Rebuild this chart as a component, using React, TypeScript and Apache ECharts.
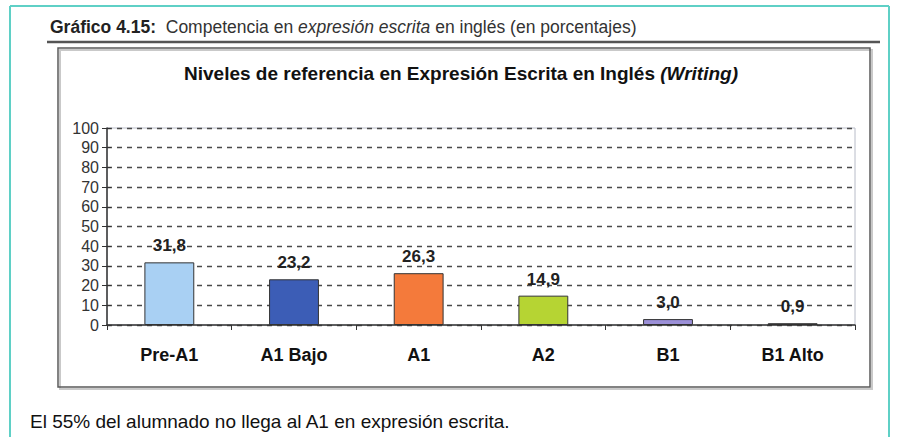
import React, { useEffect, useRef } from "react";
import * as echarts from "echarts";

const categories = ["Pre-A1", "A1 Bajo", "A1", "A2", "B1", "B1 Alto"];
const values = [31.8, 23.2, 26.3, 14.9, 3.0, 0.9];
const barColors = ["#a9d0f3", "#3c5db6", "#f47a3b", "#b6d433", "#9c90d8", "#2a2a2a"];
const yTicks = [0, 10, 20, 30, 40, 50, 60, 70, 80, 90, 100];

const FONT = "'Liberation Sans', Arial, sans-serif";

export default function App() {
  const ref = useRef<HTMLDivElement>(null);
  useEffect(() => {
    if (!ref.current) return;
    const chart = echarts.init(ref.current, null, { renderer: "svg" });
    chart.setOption({
      animation: false,
      backgroundColor: "#ffffff",
      textStyle: { fontFamily: FONT },
      graphic: [
        // teal outer frame
        { type: "line", shape: { x1: 10, y1: 6, x2: 10, y2: 437 }, style: { stroke: "#5fd0c6", lineWidth: 2 } },
        { type: "line", shape: { x1: 10, y1: 6, x2: 889, y2: 6 }, style: { stroke: "#5fd0c6", lineWidth: 2 } },
        { type: "line", shape: { x1: 889, y1: 6, x2: 889, y2: 437 }, style: { stroke: "#5fd0c6", lineWidth: 2 } },
        // header
        {
          type: "text",
          left: 50,
          top: 18,
          style: {
            text: "{b|Gráfico 4.15:}  Competencia en {i|expresión escrita} en inglés (en porcentajes)",
            font: `17.5px ${FONT}`,
            fill: "#333",
            rich: {
              b: { fontWeight: "bold", fontSize: 17.5, fontFamily: FONT, fill: "#222" },
              i: { fontStyle: "italic", fontSize: 17.5, fontFamily: FONT, fill: "#333" },
            },
          },
        },
        { type: "line", shape: { x1: 47, y1: 42, x2: 880, y2: 42 }, style: { stroke: "#555", lineWidth: 2.5 } },
        // inner box shadow + box
        { type: "rect", shape: { x: 60, y: 50, width: 812, height: 339 }, style: { fill: "none", stroke: "#c9c9c9", lineWidth: 2 } },
        { type: "rect", shape: { x: 58, y: 48, width: 812, height: 339 }, style: { fill: "none", stroke: "#5a5a5a", lineWidth: 1.5 } },
        // chart title
        {
          type: "text",
          left: 184,
          top: 64,
          style: {
            text: "Niveles de referencia en Expresión Escrita en Inglés {i|(Writing)}",
            font: `bold 19px ${FONT}`,
            fill: "#111",
            rich: {
              i: { fontStyle: "italic", fontWeight: "bold", fontSize: 19, fontFamily: FONT, fill: "#111" },
            },
          },
        },
        // footer
        {
          type: "text",
          left: 30,
          top: 412,
          style: {
            text: "El 55% del alumnado no llega al A1 en expresión escrita.",
            font: `19px ${FONT}`,
            fill: "#111",
          },
        },
      ],
      grid: {
        left: 107,
        top: 128,
        width: 748,
        height: 197,
        show: true,
        borderColor: "#b8bcc8",
        borderWidth: 1,
        backgroundColor: "transparent",
      },
      xAxis: {
        type: "category",
        data: categories,
        axisLine: { lineStyle: { color: "#333", width: 1.5 } },
        axisTick: { show: true, alignWithLabel: false, length: 5, lineStyle: { color: "#333" } },
        axisLabel: { color: "#111", fontWeight: "bold", fontSize: 18, fontFamily: FONT, margin: 21 },
      },
      yAxis: [
        {
          type: "value",
          min: 0,
          max: 100,
          interval: 10,
          axisLine: { show: true, lineStyle: { color: "#333", width: 1.5 } },
          axisTick: { show: true, length: 5, lineStyle: { color: "#333" } },
          axisLabel: {
            color: "#333",
            fontSize: 16,
            fontFamily: FONT,
            margin: 8,
            formatter: (v: number) => (yTicks.includes(v) ? String(v) : ""),
          },
          splitLine: { show: true, lineStyle: { color: "#4a4a4a", type: [5, 5], width: 1.4 } },
        },
        {
          type: "value",
          min: 0,
          max: 100,
          interval: 10,
          position: "left",
          axisLine: { show: false },
          axisTick: { show: true, inside: true, length: 4, lineStyle: { color: "#333" } },
          axisLabel: { show: false },
          splitLine: { show: false },
        },
      ],
      series: [
        {
          type: "bar",
          yAxisIndex: 0,
          barWidth: "40%",
          data: values.map((v, i) => ({
            value: v,
            itemStyle: { color: barColors[i], borderColor: "#333", borderWidth: 1 },
          })),
          label: {
            show: true,
            position: "top",
            distance: 8,
            color: "#222",
            fontSize: 17,
            fontWeight: "bold",
            fontFamily: FONT,
            formatter: (p: any) => Number(p.value).toFixed(1).replace(".", ","),
          },
        },
      ],
    });
    return () => chart.dispose();
  }, []);
  return (
    <div
      ref={ref}
      style={{ position: "fixed", left: 0, top: 0, width: 898, height: 437 }}
    />
  );
}
